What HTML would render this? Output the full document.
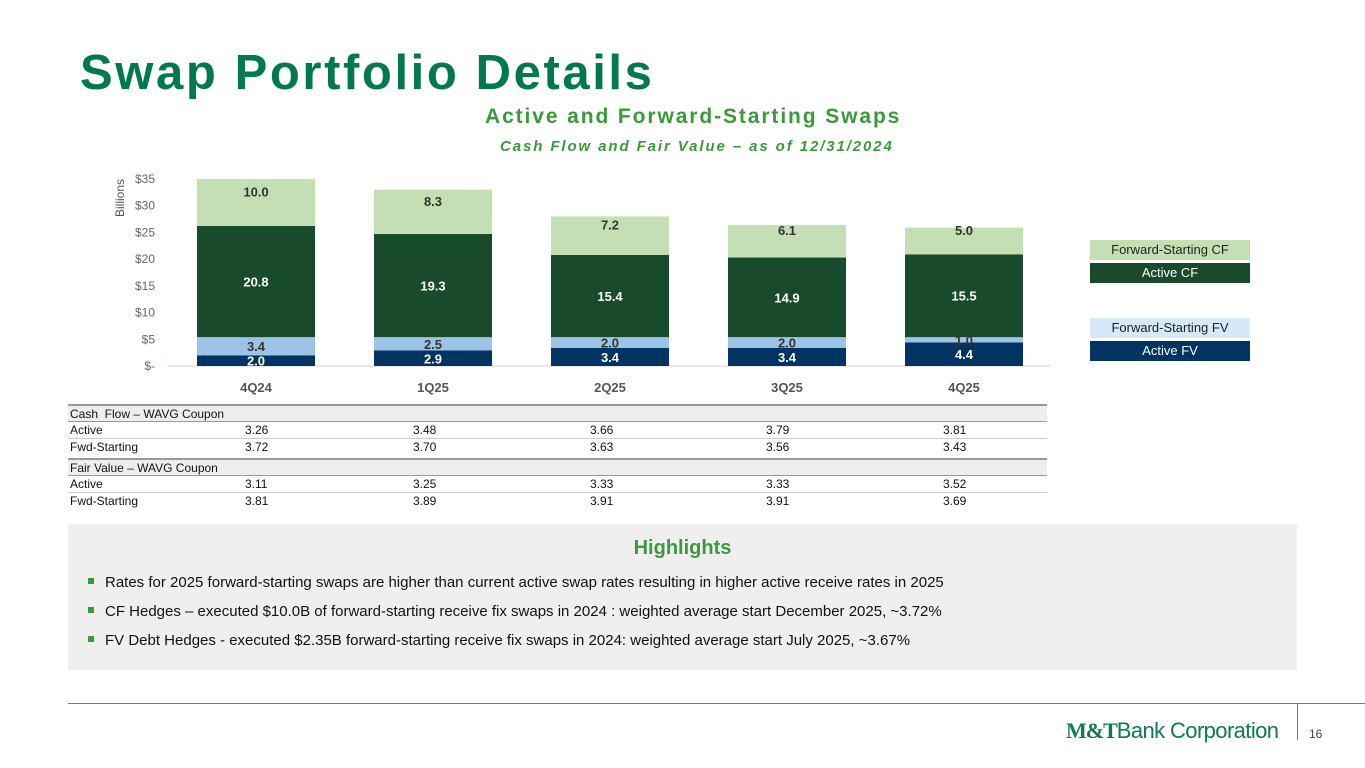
<!DOCTYPE html>
<html><head><meta charset="utf-8">
<style>
body{margin:0;width:1365px;height:768px;background:#fff;font-family:"Liberation Sans",Arial,sans-serif;position:relative;overflow:hidden}
.abs{position:absolute}
.title{left:80px;top:43px;font-size:49px;font-weight:bold;color:#007a4d;letter-spacing:2.6px;line-height:60px}
.sub1{left:485px;top:105px;font-size:21px;font-weight:bold;color:#3a9a3a;letter-spacing:1.9px}
.sub2{left:500px;top:138px;font-size:15px;font-weight:bold;font-style:italic;color:#3a9a3a;letter-spacing:1.9px}
.leg{left:1090px;width:160px;height:20px;font-size:13px;text-align:center;line-height:20px}
.tbl{left:68px;width:979px;font-size:12px;color:#111}
.row{position:absolute;left:0;width:979px;height:16px;line-height:16px}
.row span{position:absolute}
.hdr{background:#eeeeee;border-top:2px solid #999;border-bottom:1px solid #999;height:15px}
.hl{left:68px;top:524px;width:1229px;height:146px;background:#efefef}
.hl h2{margin:0;position:absolute;left:0;width:1229px;top:13px;text-align:center;font-size:20px;color:#3a9a3a}
.bul{position:absolute;left:20px;font-size:15px;color:#111}
.bul i{display:inline-block;width:6px;height:6px;background:#3a9a3a;margin-right:11px;vertical-align:middle;position:relative;top:-2px}
</style></head><body>
<div class="abs title">Swap Portfolio Details</div>
<div class="abs sub1">Active and Forward-Starting Swaps</div>
<div class="abs sub2">Cash Flow and Fair Value – as of 12/31/2024</div>
<svg class="abs" style="left:0;top:0" width="1080" height="400">
<g id="chart"></g>
<text x="0" y="0" transform="translate(124,198) rotate(-90)" text-anchor="middle" font-size="12" fill="#555">Billions</text>
</svg>
<div class="abs leg" style="top:240px;background:#c5dfb4;color:#222">Forward-Starting CF</div>
<div class="abs leg" style="top:263px;background:#184a2c;color:#fff">Active CF</div>
<div class="abs leg" style="top:318px;background:#d6e9f8;color:#222">Forward-Starting FV</div>
<div class="abs leg" style="top:341px;background:#003462;color:#fff">Active FV</div>

<div class="abs tbl" style="top:404px">
<div class="row hdr" style="top:0"><span style="left:2px">Cash&nbsp; Flow – WAVG Coupon</span></div>
<div class="row" style="top:18px;border-bottom:1px solid #ccc"><span style="left:2px">Active</span><span style="left:177px">3.26</span><span style="left:345px">3.48</span><span style="left:522px">3.66</span><span style="left:698px">3.79</span><span style="left:875px">3.81</span></div>
<div class="row" style="top:35px"><span style="left:2px">Fwd-Starting</span><span style="left:177px">3.72</span><span style="left:345px">3.70</span><span style="left:522px">3.63</span><span style="left:698px">3.56</span><span style="left:875px">3.43</span></div>
<div class="row hdr" style="top:54px"><span style="left:2px">Fair Value – WAVG Coupon</span></div>
<div class="row" style="top:72px;border-bottom:1px solid #ccc"><span style="left:2px">Active</span><span style="left:177px">3.11</span><span style="left:345px">3.25</span><span style="left:522px">3.33</span><span style="left:698px">3.33</span><span style="left:875px">3.52</span></div>
<div class="row" style="top:89px"><span style="left:2px">Fwd-Starting</span><span style="left:177px">3.81</span><span style="left:345px">3.89</span><span style="left:522px">3.91</span><span style="left:698px">3.91</span><span style="left:875px">3.69</span></div>
</div>

<div class="abs hl">
<h2>Highlights</h2>
<div class="bul" style="top:50px"><i></i>Rates for 2025 forward-starting swaps are higher than current active swap rates resulting in higher active receive rates in 2025</div>
<div class="bul" style="top:79px"><i></i>CF Hedges – executed $10.0B of forward-starting receive fix swaps in 2024 : weighted average start December 2025, ~3.72%</div>
<div class="bul" style="top:108px"><i></i>FV Debt Hedges - executed $2.35B forward-starting receive fix swaps in 2024: weighted average start July 2025, ~3.67%</div>
</div>

<div class="abs" style="left:68px;top:703px;width:1297px;height:1px;background:#5a8a78"></div>
<div class="abs" style="left:1297px;top:704px;width:1px;height:36px;background:#5a8a78"></div>
<div class="abs" style="left:1066px;top:718px;font-size:22px;color:#0f7a50;letter-spacing:-0.6px"><span style="font-family:'Liberation Serif',serif;font-weight:bold;letter-spacing:-1px">M&amp;T</span>Bank Corporation</div>
<div class="abs" style="left:1309px;top:727px;font-size:12px;color:#444">16</div>

<script>
const categories=["4Q24","1Q25","2Q25","3Q25","4Q25"];
const activeFV=[2.0,2.9,3.4,3.4,4.4];
const fwdFV=[3.4,2.5,2.0,2.0,1.0];
const activeCF=[20.8,19.3,15.4,14.9,15.5];
const fwdCF=[10.0,8.3,7.2,6.1,5.0];
const yTicks=[0,5,10,15,20,25,30,35];
const yTickLabels=["$-","$5","$10","$15","$20","$25","$30","$35"];
const NS="http://www.w3.org/2000/svg";
const g=document.getElementById('chart');
const y0=366,pxPer=187/35,yMax=35;
const y=v=>y0-Math.min(v,yMax)*pxPer;
const x=i=>256+i*177;
const bw=118;
function mk(t,a){const e=document.createElementNS(NS,t);for(const k in a)e.setAttribute(k,a[k]);g.appendChild(e);return e;}
yTicks.forEach((t,i)=>{const e=mk('text',{x:155,y:y(t)+4,'text-anchor':'end','font-size':12,fill:'#666'});e.textContent=yTickLabels[i];

});
const ax=mk('line',{x1:168,x2:1050,y1:y0,y2:y0,stroke:'#e8c8c0','stroke-width':1});


const series=[[activeFV,'#003462','#fff','active-fv'],[fwdFV,'#9dc3e6','#333','fwd-fv'],[activeCF,'#184a2c','#fff','active-cf'],[fwdCF,'#c5dfb4','#333','fwd-cf']];
categories.forEach((c,i)=>{
 let base=0;
 series.forEach(([arr,col,tc,nm])=>{
  const v=arr[i],top=base+v;
  const r=mk('rect',{x:x(i)-bw/2,y:y(top),width:bw,height:y(base)-y(top),fill:col});
  
  
  const cy=(y(base)+y(Math.min(top,yMax)))/2+ (nm==='fwd-cf'? -6: 5);
  const t=mk('text',{x:x(i),y:cy,'text-anchor':'middle','font-size':13,'font-weight':'bold',fill:tc});
  t.textContent=v.toFixed(1);
  
  
  base=top;
 });
 const l=mk('text',{x:x(i),y:392,'text-anchor':'middle','font-size':13,'font-weight':'bold',fill:'#555'});
 l.textContent=c;
 
 
});
</script>
</body></html>
